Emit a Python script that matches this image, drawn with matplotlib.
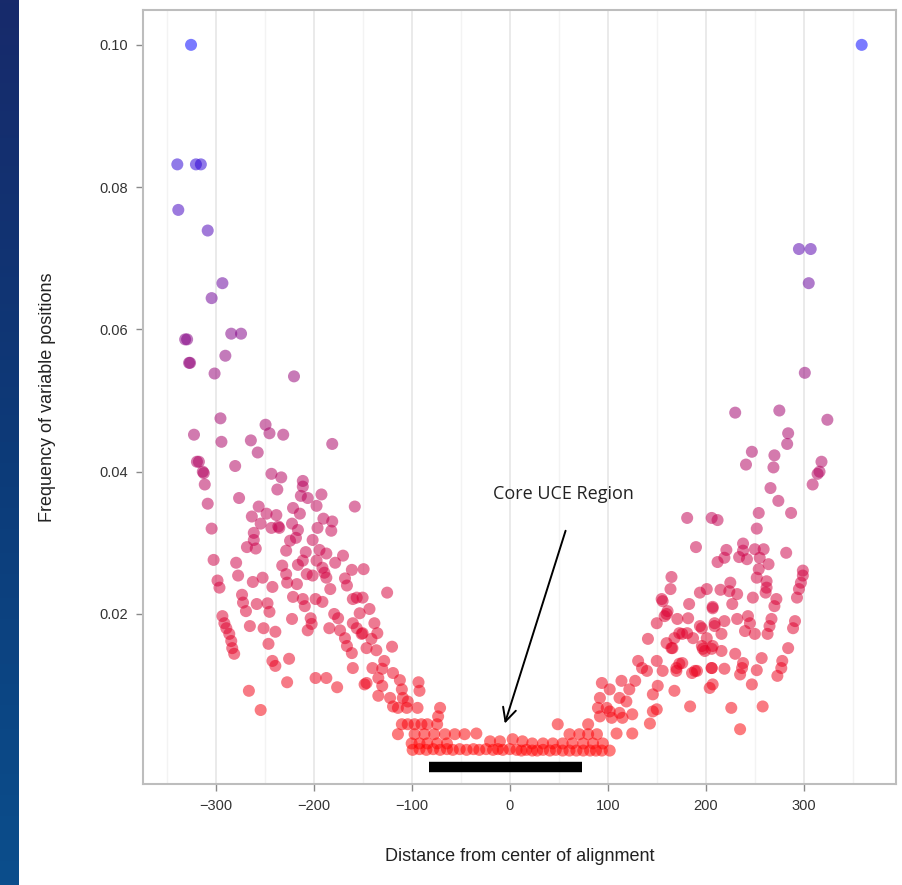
import matplotlib
matplotlib.use("Agg")
import matplotlib.pyplot as plt
from matplotlib.colors import LinearSegmentedColormap
import numpy as np

# ---- data ----
left_x = [-325, -339, -320, -315, -338, -308, -293, -304, -284, -274, -331, -329, -327, -326, -290, -301, -220,
          -295, -322, -249, -245, -231, -294, -264, -181, -257, -319, -317, -280, -313, -312, -243, -233, -211,
          -311, -211, -237, -276, -213, -206, -192, -308, -197, -158, -256, -263, -248, -238, -221, -214, -190,
          -181, -304, -254, -236, -235, -243, -222, -216, -196, -182, -261, -261, -224, -218, -201, -268, -259,
          -228, -208, -194, -187, -170, -302, -279, -232, -216, -211, -197, -191, -178, -161, -149, -277, -228,
          -207, -201, -189, -187, -298, -296, -262, -252, -242, -227, -217, -168, -166, -183, -273, -272, -269,
          -221, -211, -209, -198, -191, -160, -156, -150, -258, -247, -245, -179, -175, -293, -291, -289, -286,
          -284, -283, -281, -222, -203, -202, -265, -251, -239, -206, -184, -173, -168, -166, -161, -160, -156,
          -151, -246, -242, -239, -225, -160, -227, -198, -187, -176, -266, -146, -254,
          -125, -143, -153, -138, -135, -150, -141, -120, -136, -146, -128, -140, -130, -119, -112, -134, -130,
          -148, -93, -92, -110, -109, -104, -134, -122, -119, -114, -105, -94]
left_y = [0.100, 0.0832, 0.0832, 0.0832, 0.0768, 0.0739, 0.0665, 0.0644, 0.0594, 0.0594, 0.0586, 0.0586, 0.0553,
          0.0553, 0.0563, 0.0538, 0.0534,
          0.0475, 0.0452, 0.0466, 0.0454, 0.0452, 0.0442, 0.0444, 0.0439, 0.0427, 0.0414, 0.0414, 0.0408, 0.0400,
          0.0398, 0.0397, 0.0392, 0.0387, 0.0382, 0.0379, 0.0375, 0.0363, 0.0366, 0.0363, 0.0368, 0.0355, 0.0352,
          0.0351, 0.0351, 0.0337, 0.0341, 0.0339, 0.0349, 0.0341, 0.0334, 0.0330, 0.0320, 0.0327, 0.0323, 0.0321,
          0.0321, 0.0327, 0.0318, 0.0321, 0.0317, 0.0314, 0.0304, 0.0303, 0.0307, 0.0304, 0.0294, 0.0292, 0.0289,
          0.0287, 0.0290, 0.0285, 0.0282, 0.0276, 0.0272, 0.0268, 0.0269, 0.0275, 0.0275, 0.0265, 0.0272, 0.0262,
          0.0263, 0.0254, 0.0256, 0.0256, 0.0254, 0.0258, 0.0251, 0.0247, 0.0237, 0.0245, 0.0251, 0.0238, 0.0244,
          0.0242, 0.0250, 0.0240, 0.0235, 0.0227, 0.0216, 0.0204, 0.0224, 0.0221, 0.0211, 0.0221, 0.0217, 0.0221,
          0.0223, 0.0223, 0.0214, 0.0215, 0.0203, 0.0200, 0.0194, 0.0197, 0.0187, 0.0180, 0.0172, 0.0162, 0.0152,
          0.0144, 0.0193, 0.0194, 0.0186, 0.0183, 0.0180, 0.0175, 0.0177, 0.0180, 0.0177, 0.0166, 0.0155, 0.0145,
          0.0187, 0.0180, 0.0172, 0.0158, 0.0134, 0.0127, 0.0137, 0.0124, 0.0104, 0.0110, 0.0110, 0.0097, 0.0092,
          0.0103, 0.0065,
          0.0230, 0.0207, 0.0201, 0.0187, 0.0173, 0.0173, 0.0165, 0.0154, 0.0149, 0.0152, 0.0134, 0.0124, 0.0123,
          0.0117, 0.0107, 0.0110, 0.0099, 0.0101, 0.0104, 0.0092, 0.0094, 0.0082, 0.0077, 0.0085, 0.0082, 0.0070,
          0.0068, 0.0068, 0.0068]

core_x = [-71, -73, -74, -110, -104, -97, -90, -84, -114, -97, -87, -77, -66, -56, -46, -34,
          -100, -92, -84, -74, -64, -20, -10, 3, 13, 23, 34, 44, 54, 64, 75, 85, 95,
          -99, -92, -85, -78, -71, -64, -58, -51, -44, -37, -31, -24, -17, -12, -7, 0, 7, 12, 17, 23, 28, 34, 41,
          47, 54, 61, 68, 75, 82, 88, 94, 102, 49, 61, 71, 80, 80, 89]
core_y = [0.0068, 0.0056, 0.0045, 0.0045, 0.0045, 0.0045, 0.0045, 0.0045, 0.0031, 0.0031, 0.0031, 0.0031, 0.0031,
          0.0031, 0.0031, 0.0032,
          0.0018, 0.0018, 0.0018, 0.0018, 0.0018, 0.0021, 0.0021, 0.0024, 0.0021, 0.0018, 0.0018, 0.0018, 0.0018,
          0.0018, 0.0018, 0.0018, 0.0018,
          0.0009, 0.0010, 0.0009, 0.0010, 0.0009, 0.0010, 0.0009, 0.0010, 0.0009, 0.0010, 0.0009, 0.0010, 0.0009,
          0.0010, 0.0009, 0.0010, 0.0009, 0.0008, 0.0009, 0.0008, 0.0008, 0.0009, 0.0008, 0.0009, 0.0008, 0.0008,
          0.0008, 0.0008, 0.0008, 0.0008, 0.0008, 0.0008, 0.0045, 0.0031, 0.0031, 0.0045, 0.0031, 0.0031]

right_x = [92, 99, 90, 102, 112, 104, 115, 125, 125, 109, 94, 102, 92, 112, 119, 114, 128, 122, 131, 135, 140,
           150, 141, 160, 165, 168, 150, 158, 161, 155, 165, 164, 176, 181, 187, 170, 176, 170, 156, 151, 146, 168,
           146, 150, 143, 184, 189, 183, 171, 196, 197, 199, 194, 201, 207, 209, 207, 206, 207,
           230, 275, 324, 284, 283, 247, 241, 270, 269, 318, 314, 316, 309, 266, 274, 254, 287, 252, 181, 206, 212,
           190, 221, 219, 212, 238, 238, 234, 242, 250, 259, 255, 264, 282, 254, 252, 262, 262, 261, 299, 299, 297,
           295, 215, 224, 225, 232, 248, 272, 293,
           156, 207, 227, 270, 160, 182, 209, 219, 232, 243, 245, 267, 265, 291, 289, 173, 194, 201, 216, 240, 250,
           263, 166, 196, 206, 216, 230, 257, 284, 278, 277, 273, 173, 186, 191, 206, 219, 237, 252, 238, 235, 204,
           247, 226, 258, 235, 295, 307, 305, 301, 359]
right_y = [0.0056, 0.0068, 0.0068, 0.0063, 0.0061, 0.0054, 0.0054, 0.0059, 0.0032, 0.0032, 0.0103, 0.0094, 0.0082,
           0.0082, 0.0077, 0.0106, 0.0106, 0.0094, 0.0134, 0.0124, 0.0120, 0.0134, 0.0165, 0.0159, 0.0152, 0.0166,
           0.0187, 0.0197, 0.0204, 0.0221, 0.0252, 0.0235, 0.0172, 0.0173, 0.0166, 0.0124, 0.0131, 0.0120, 0.0120,
           0.0099, 0.0087, 0.0092, 0.0063, 0.0066, 0.0046, 0.0070, 0.0120, 0.0214, 0.0193, 0.0180, 0.0151, 0.0148,
           0.0230, 0.0235, 0.0208, 0.0183, 0.0155, 0.0124, 0.0101,
           0.0483, 0.0486, 0.0473, 0.0454, 0.0439, 0.0428, 0.0410, 0.0423, 0.0406, 0.0414, 0.0397, 0.0400, 0.0382,
           0.0377, 0.0359, 0.0342, 0.0342, 0.0320, 0.0335, 0.0335, 0.0332, 0.0294, 0.0290, 0.0279, 0.0273, 0.0299,
           0.0289, 0.0280, 0.0277, 0.0291, 0.0291, 0.0279, 0.0270, 0.0286, 0.0263, 0.0251, 0.0246, 0.0237, 0.0230,
           0.0261, 0.0254, 0.0244, 0.0235, 0.0234, 0.0232, 0.0244, 0.0228, 0.0223, 0.0221, 0.0223,
           0.0218, 0.0210, 0.0214, 0.0211, 0.0200, 0.0194, 0.0187, 0.0190, 0.0193, 0.0197, 0.0187, 0.0193, 0.0183,
           0.0190, 0.0180, 0.0173, 0.0183, 0.0166, 0.0172, 0.0176, 0.0172, 0.0172, 0.0152, 0.0155, 0.0151, 0.0148,
           0.0144, 0.0138, 0.0152, 0.0134, 0.0124, 0.0113, 0.0130, 0.0117, 0.0120, 0.0124, 0.0123, 0.0124, 0.0121,
           0.0131, 0.0115, 0.0096, 0.0101, 0.0068, 0.0070, 0.0038, 0.0713, 0.0713, 0.0665, 0.0539, 0.100]

core_start, core_end = -82, 74
x_ticks = [-300, -200, -100, 0, 100, 200, 300]
y_ticks = [0.02, 0.04, 0.06, 0.08, 0.10]

x = np.array(left_x + core_x + right_x)
y = np.array(left_y + core_y + right_y)

# red -> blue gradient (a bit redder in the low half)
cmap = LinearSegmentedColormap.from_list(
    "redblue", [(0, "#FF0000"), (0.3, "#C8004E"), (0.55, "#900078"), (0.83, "#2B00D4"), (1, "#0000FF")])

fig = plt.figure(figsize=(9.02, 8.85), dpi=100)

# slide background strip on the left
bg = fig.add_axes([0, 0, 19 / 902, 1])
bg.imshow(np.linspace(0, 1, 256).reshape(-1, 1), aspect="auto",
          cmap=LinearSegmentedColormap.from_list("bg", ["#172a6b", "#0d3a78", "#0b4e8c"]))
bg.axis("off")

ax = fig.add_axes([143 / 902, 101 / 885, 753 / 902, 774 / 885])
ax.set_xlim(-374, 394)
ax.set_ylim(-0.0039, 0.1049)

ax.set_xticks(x_ticks)
ax.set_xticks([-350, -250, -150, -50, 50, 150, 250, 350], minor=True)
ax.set_yticks(y_ticks)
ax.set_yticklabels(["%.2f" % v for v in y_ticks])
ax.grid(True, axis="x", which="major", color="#e6e6e6", lw=1.2)
ax.grid(True, axis="x", which="minor", color="#f3f3f3", lw=1.0)
ax.set_axisbelow(True)

ax.scatter(x, y, c=y, cmap=cmap, vmin=y.min(), vmax=y.max(), s=75, alpha=0.52,
           linewidths=0, zorder=3)

ax.hlines(-0.0015, core_start, core_end, colors="black", lw=7.5, zorder=4)
ax.text(55, 0.0369, "Core UCE Region", ha="center", va="center", fontsize=13,
        family="Open Sans", color="#222222")
ax.annotate("", xy=(-5, 0.0046), xytext=(57, 0.0317),
            arrowprops=dict(arrowstyle="->", color="black", lw=1.4, shrinkA=0, shrinkB=0,
                            mutation_scale=24))

for s in ax.spines.values():
    s.set_color("#bdbdbd")
    s.set_linewidth(1.5)
ax.tick_params(axis="both", which="major", length=5, width=1, color="#8a8a8a",
               labelsize=10.5, labelcolor="#333333", pad=6)
ax.tick_params(which="minor", length=0)
for lab in ax.get_xticklabels() + ax.get_yticklabels():
    lab.set_family("Liberation Sans")

ax.set_xlabel("Distance from center of alignment", fontsize=13, family="Liberation Sans",
              color="#222222", labelpad=25)
ax.set_ylabel("Frequency of variable positions", fontsize=13, family="Liberation Sans",
              color="#222222", labelpad=31)

fig.savefig("out.png", dpi=100)
